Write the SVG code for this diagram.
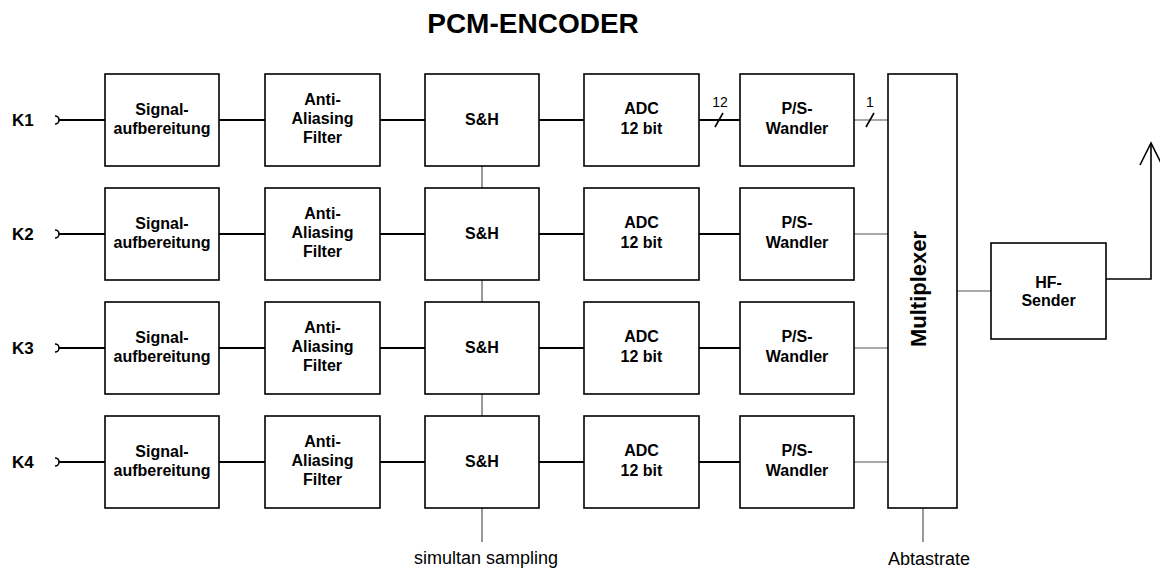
<svg xmlns="http://www.w3.org/2000/svg" width="1160" height="575" viewBox="0 0 1160 575">
<style>
.box{fill:#fff;stroke:#000;stroke-width:1.6}
.t{font-family:"Liberation Sans",Arial,sans-serif;font-weight:bold;font-size:16px;fill:#000;text-anchor:middle}
.k{font-family:"Liberation Sans",Arial,sans-serif;font-weight:bold;font-size:17px;fill:#000}
.n{font-family:"Liberation Sans",Arial,sans-serif;font-size:18px;fill:#000;text-anchor:middle}
.s{font-family:"Liberation Sans",Arial,sans-serif;font-size:14px;fill:#000;text-anchor:middle}
.w{stroke:#000;stroke-width:2;fill:none}
.g{stroke:#555;stroke-width:1.2;fill:none}
.a{stroke:#000;stroke-width:1.6;fill:none}
</style>
<rect width="1160" height="575" fill="#fff"/>
<text x="533" y="33" font-family="Liberation Sans, Arial, sans-serif" font-weight="bold" font-size="28" text-anchor="middle">PCM-ENCODER</text>

<g id="connectors">
  <path class="a" d="M55,116 A4,4 0 0 1 55,124"/>
  <path class="a" d="M55,230 A4,4 0 0 1 55,238"/>
  <path class="a" d="M55,344 A4,4 0 0 1 55,352"/>
  <path class="a" d="M55,458 A4,4 0 0 1 55,466"/>
  <path class="w" d="M59,120H105M59,234H105M59,348H105M59,462H105"/>
  <path class="w" d="M219,120H265M219,234H265M219,348H265M219,462H265"/>
  <path class="w" d="M380,120H425M380,234H425M380,348H425M380,462H425"/>
  <path class="w" d="M539,120H584M539,234H584M539,348H584M539,462H584"/>
  <path class="w" d="M699,120H740M697,234H740M697,348H740M697,462H740"/>
  <path class="g" d="M854,120H888M854,234H888M854,348H888M854,462H888"/>
  <path class="a" d="M715,127L723,113"/>
  <path class="a" d="M866,127L874,113" stroke-width="1.2"/>
  <text class="s" x="720" y="107">12</text>
  <text class="s" x="870" y="107">1</text>
  <path class="g" d="M482,166V188M482,280V302M482,394V416M482,508V542"/>
  <path class="g" d="M923,508V542"/>
  <path class="g" d="M957,291H991"/>
  <path class="a" d="M1106,279H1151V143"/>
  <path class="a" d="M1140,165L1151,143L1162,165"/>
</g>

<text class="k" x="12" y="126">K1</text>
<text class="k" x="12" y="240">K2</text>
<text class="k" x="12" y="354">K3</text>
<text class="k" x="12" y="468">K4</text>

<g id="sig1"><rect class="box" x="105" y="74" width="114" height="92"/><text class="t" x="162" y="115">Signal-</text><text class="t" x="162" y="134">aufbereitung</text></g>
<g id="sig2"><rect class="box" x="105" y="188" width="114" height="92"/><text class="t" x="162" y="229">Signal-</text><text class="t" x="162" y="248">aufbereitung</text></g>
<g id="sig3"><rect class="box" x="105" y="302" width="114" height="92"/><text class="t" x="162" y="343">Signal-</text><text class="t" x="162" y="362">aufbereitung</text></g>
<g id="sig4"><rect class="box" x="105" y="416" width="114" height="92"/><text class="t" x="162" y="457">Signal-</text><text class="t" x="162" y="476">aufbereitung</text></g>

<g id="aaf1"><rect class="box" x="265" y="74" width="115" height="92"/><text class="t" x="322.5" y="105">Anti-</text><text class="t" x="322.5" y="124">Aliasing</text><text class="t" x="322.5" y="143">Filter</text></g>
<g id="aaf2"><rect class="box" x="265" y="188" width="115" height="92"/><text class="t" x="322.5" y="219">Anti-</text><text class="t" x="322.5" y="238">Aliasing</text><text class="t" x="322.5" y="257">Filter</text></g>
<g id="aaf3"><rect class="box" x="265" y="302" width="115" height="92"/><text class="t" x="322.5" y="333">Anti-</text><text class="t" x="322.5" y="352">Aliasing</text><text class="t" x="322.5" y="371">Filter</text></g>
<g id="aaf4"><rect class="box" x="265" y="416" width="115" height="92"/><text class="t" x="322.5" y="447">Anti-</text><text class="t" x="322.5" y="466">Aliasing</text><text class="t" x="322.5" y="485">Filter</text></g>

<g id="sh1"><rect class="box" x="425" y="74" width="114" height="92"/><text class="t" x="482" y="125">S&amp;H</text></g>
<g id="sh2"><rect class="box" x="425" y="188" width="114" height="92"/><text class="t" x="482" y="239">S&amp;H</text></g>
<g id="sh3"><rect class="box" x="425" y="302" width="114" height="92"/><text class="t" x="482" y="353">S&amp;H</text></g>
<g id="sh4"><rect class="box" x="425" y="416" width="114" height="92"/><text class="t" x="482" y="467">S&amp;H</text></g>

<g id="adc1"><rect class="box" x="584" y="74" width="115" height="92"/><text class="t" x="641.5" y="114">ADC</text><text class="t" x="641.5" y="134">12 bit</text></g>
<g id="adc2"><rect class="box" x="584" y="188" width="115" height="92"/><text class="t" x="641.5" y="228">ADC</text><text class="t" x="641.5" y="248">12 bit</text></g>
<g id="adc3"><rect class="box" x="584" y="302" width="115" height="92"/><text class="t" x="641.5" y="342">ADC</text><text class="t" x="641.5" y="362">12 bit</text></g>
<g id="adc4"><rect class="box" x="584" y="416" width="115" height="92"/><text class="t" x="641.5" y="456">ADC</text><text class="t" x="641.5" y="476">12 bit</text></g>

<g id="ps1"><rect class="box" x="740" y="74" width="114" height="92"/><text class="t" x="797" y="114">P/S-</text><text class="t" x="797" y="134">Wandler</text></g>
<g id="ps2"><rect class="box" x="740" y="188" width="114" height="92"/><text class="t" x="797" y="228">P/S-</text><text class="t" x="797" y="248">Wandler</text></g>
<g id="ps3"><rect class="box" x="740" y="302" width="114" height="92"/><text class="t" x="797" y="342">P/S-</text><text class="t" x="797" y="362">Wandler</text></g>
<g id="ps4"><rect class="box" x="740" y="416" width="114" height="92"/><text class="t" x="797" y="456">P/S-</text><text class="t" x="797" y="476">Wandler</text></g>

<g id="mux"><rect class="box" x="888" y="74" width="69" height="434"/><text class="t" style="font-size:22px" transform="translate(926,289) rotate(-90)" x="0" y="0">Multiplexer</text></g>

<g id="hf"><rect class="box" x="991" y="243" width="115" height="96"/><text class="t" x="1048.5" y="288">HF-</text><text class="t" x="1048.5" y="306">Sender</text></g>

<text class="n" x="486" y="564">simultan sampling</text>
<text class="n" x="929" y="565">Abtastrate</text>
</svg>
